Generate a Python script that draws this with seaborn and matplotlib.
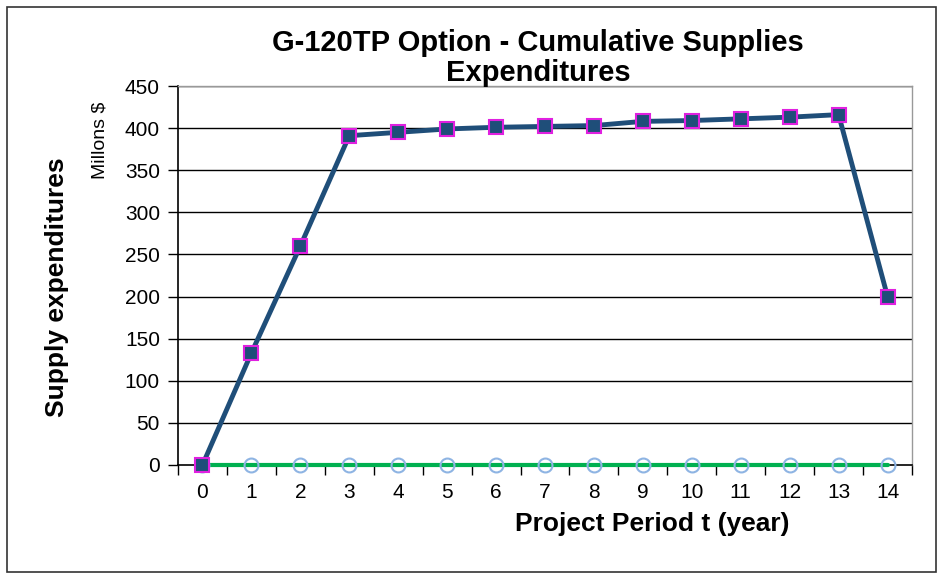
import matplotlib
matplotlib.use("Agg")
import matplotlib.pyplot as plt
import matplotlib.patches as mpatches
import seaborn as sns
import pandas as pd
import numpy as np

years = list(range(15))
supplies = [0, 133, 260, 391, 395, 399, 401, 402, 403, 408, 409, 411, 413, 416, 200]
baseline = [0] * 15
yticks = [0, 50, 100, 150, 200, 250, 300, 350, 400, 450]

sns.set_theme(style="white")
plt.rcParams['font.family'] = ['Liberation Sans', 'DejaVu Sans']
plt.rcParams['text.color'] = 'black'
plt.rcParams['xtick.color'] = 'black'
plt.rcParams['ytick.color'] = 'black'

fig = plt.figure(figsize=(9.44, 5.8), dpi=100)
ax = fig.add_axes([178/944, 1-465/580, (912-178)/944, (465-86)/580])

df = pd.DataFrame({"year": years, "supplies": supplies, "baseline": baseline})

for y in yticks[1:]:
    ax.axhline(y, color="black", lw=1.0, zorder=0)

sns.lineplot(data=df, x="year", y="baseline", ax=ax, color="#00B050", lw=3,
             marker="o", markersize=10, markerfacecolor="none",
             markeredgecolor="#8EB4E3", markeredgewidth=1.5, zorder=4, clip_on=False)
sns.lineplot(data=df, x="year", y="supplies", ax=ax, color="#1F4E79", lw=3.5,
             marker="s", markersize=10, markerfacecolor="#1F4E79",
             markeredgecolor="#E020E0", markeredgewidth=1.5, zorder=5, clip_on=False)

ax.set_xlim(-0.5, 14.5)
ax.set_ylim(0, 450)
ax.set_yticks(yticks)
ax.set_xticks(years)
ax.set_xticks(np.arange(-0.5, 15, 1), minor=True)
ax.tick_params(axis="x", which="major", length=0, pad=13, labelsize=15)
ax.tick_params(axis="x", which="minor", length=7, width=1, direction="out", bottom=True, color="black")
ax.tick_params(axis="y", length=7, width=1, direction="out", left=True, labelsize=15, pad=6, color="black")

for s in ["left", "bottom"]:
    ax.spines[s].set_color("black")
    ax.spines[s].set_linewidth(1.2)
for s in ["top", "right"]:
    ax.spines[s].set_color("#999999")
    ax.spines[s].set_linewidth(1.0)

ax.set_xlabel("")
ax.set_ylabel("")
fig.text(652/944, 1-524/580, "Project Period t (year)", ha="center", va="center",
         fontsize=19, fontweight="bold")
fig.text(57/944, 1-287/580, "Supply expenditures", ha="center", va="center",
         rotation=90, fontsize=19, fontweight="bold")
fig.text(100/944, 1-140/580, "Millons $", ha="center", va="center",
         rotation=90, fontsize=14)
fig.text(538/944, 1-58/580, "G-120TP Option - Cumulative Supplies\nExpenditures",
         ha="center", va="center", fontsize=21, fontweight="bold", linespacing=1.12)

fig.patches.append(mpatches.Rectangle((7/944, 1-572/580), (936-7)/944, (572-7)/580,
                                      transform=fig.transFigure, fill=False,
                                      edgecolor="#333333", lw=1.2))

fig.savefig("out.png", dpi=100)
